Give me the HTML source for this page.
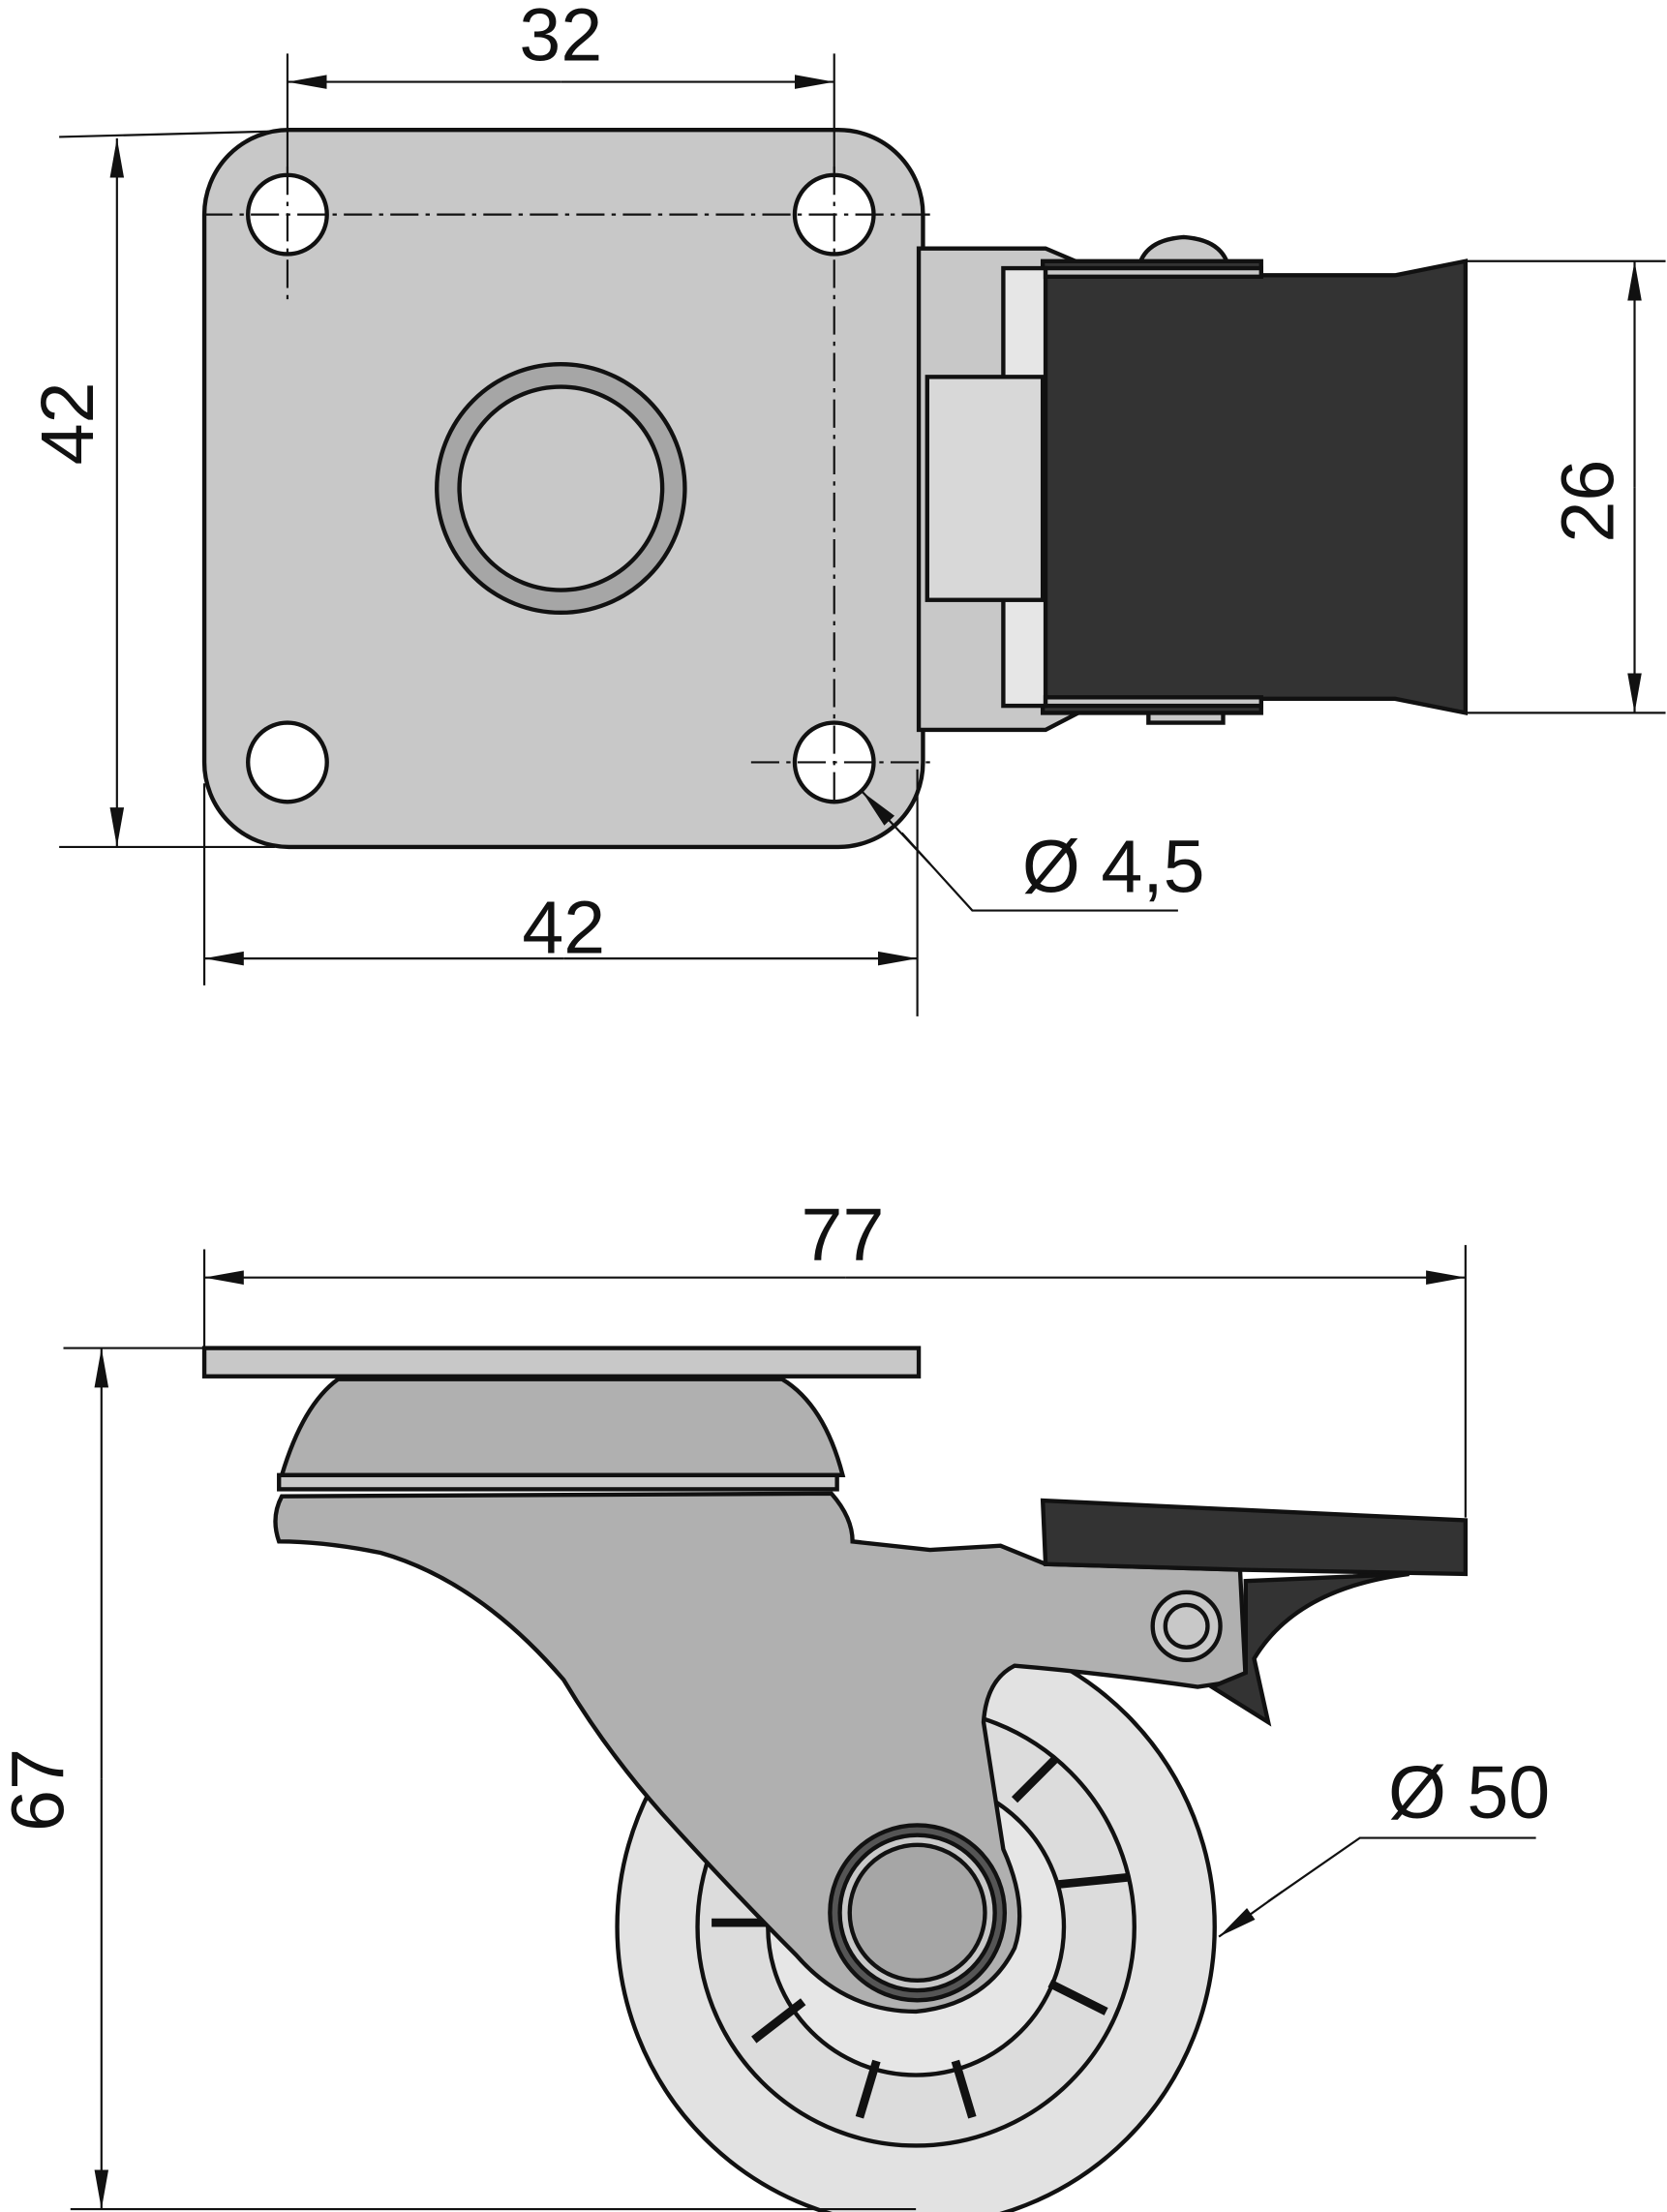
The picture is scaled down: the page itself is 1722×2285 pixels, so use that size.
<!DOCTYPE html>
<html><head><meta charset="utf-8"><style>
html,body{margin:0;padding:0;background:#fff;}
svg{display:block;}
text{font-family:"Liberation Sans",sans-serif;font-size:53px;fill:#111;}
</style></head><body>
<svg width="1722" height="2285" viewBox="0 0 1183 1567" preserveAspectRatio="none" xmlns="http://www.w3.org/2000/svg">
<defs>
<marker id="a" markerWidth="30" markerHeight="12" refX="28" refY="6" orient="auto" markerUnits="userSpaceOnUse">
<path d="M0,1 L28,6 L0,11 Z" fill="#111"/></marker>
</defs>
<g stroke="#111" stroke-width="3" fill="none">
<rect x="145" y="92" width="510" height="508" rx="60" fill="#c8c8c8"/>
<circle cx="204" cy="152" r="28" fill="#fff"/>
<circle cx="592" cy="152" r="28" fill="#fff"/>
<circle cx="204" cy="540" r="28" fill="#fff"/>
<circle cx="592" cy="540" r="28" fill="#fff"/>
<circle cx="398" cy="346" r="88" fill="#a6a6a6"/>
<circle cx="398" cy="346" r="72" fill="#c8c8c8"/>
<path d="M652,176 L742,176 L775,190 L775,500 L742,517 L652,517 Z" fill="#c8c8c8"/>
<path d="M808,190 Q812,170 840,168 Q868,170 872,190 Z" fill="#c8c8c8"/>
<path d="M815,500 L815,512 L868,512 L868,500 Z" fill="#c8c8c8"/>
<path d="M740,185 L895,185 L895,195 L990,195 L1040,185 L1040,505 L990,495 L895,495 L895,505 L740,505 Z" fill="#333"/>
<rect x="712" y="190" width="30" height="310" fill="#e6e6e6"/>
<rect x="658" y="267" width="82" height="158" fill="#d8d8d8"/>
<rect x="742" y="190" width="153" height="6" fill="#c8c8c8"/>
<rect x="742" y="494" width="153" height="6" fill="#c8c8c8"/>
</g>
<g stroke="#111" stroke-width="1.5" fill="none" stroke-dasharray="20,5,3,5">
<line x1="145" y1="152" x2="662" y2="152"/>
<line x1="592" y1="118" x2="592" y2="572"/>
<line x1="204" y1="118" x2="204" y2="212"/>
<line x1="533" y1="540" x2="662" y2="540"/>
</g>
<g stroke="#111" stroke-width="1.5" fill="none">
<line x1="204" y1="38" x2="204" y2="122"/>
<line x1="592" y1="38" x2="592" y2="122"/>
<line x1="398" y1="58" x2="204" y2="58" marker-end="url(#a)"/>
<line x1="398" y1="58" x2="592" y2="58" marker-end="url(#a)"/>
<line x1="42" y1="97" x2="195" y2="93"/>
<line x1="42" y1="600" x2="195" y2="600"/>
<line x1="83" y1="300" x2="83" y2="98" marker-end="url(#a)"/>
<line x1="83" y1="300" x2="83" y2="600" marker-end="url(#a)"/>
<line x1="145" y1="555" x2="145" y2="698"/>
<line x1="651" y1="545" x2="651" y2="720"/>
<line x1="400" y1="679" x2="145" y2="679" marker-end="url(#a)"/>
<line x1="400" y1="679" x2="651" y2="679" marker-end="url(#a)"/>
<line x1="1040" y1="185" x2="1182" y2="185"/>
<line x1="1040" y1="505" x2="1182" y2="505"/>
<line x1="1160" y1="345" x2="1160" y2="185" marker-end="url(#a)"/>
<line x1="1160" y1="345" x2="1160" y2="505" marker-end="url(#a)"/>
<polyline points="836,645 690,645 640,590"/>
<line x1="660" y1="612" x2="612" y2="561" marker-end="url(#a)"/>
</g>
<text x="398" y="43" text-anchor="middle">32</text>
<text x="400" y="675" text-anchor="middle">42</text>
<text x="855" y="632" text-anchor="end">Ø 4,5</text>
<text transform="translate(66,300) rotate(-90)" text-anchor="middle">42</text>
<text transform="translate(1145,355) rotate(-90)" text-anchor="middle">26</text>

<g stroke="#111" stroke-width="3">
<circle cx="650" cy="1365" r="212" fill="#e2e2e2"/>
<circle cx="650" cy="1365" r="155" fill="#dcdcdc"/>
<circle cx="650" cy="1365" r="105" fill="#e6e6e6"/>
<g stroke-width="6">
<line x1="505" y1="1362" x2="555" y2="1362"/>
<line x1="535" y1="1445" x2="570" y2="1418"/>
<line x1="610" y1="1500" x2="622" y2="1460"/>
<line x1="690" y1="1500" x2="678" y2="1460"/>
<line x1="745" y1="1405" x2="785" y2="1425"/>
<line x1="750" y1="1335" x2="800" y2="1330"/>
<line x1="720" y1="1275" x2="750" y2="1245"/>
</g>
<path d="M200,1045 Q215,995 240,977 L555,977 Q585,995 598,1045 Z" fill="#b0b0b0"/>
<rect x="198" y="1045" width="396" height="10" fill="#c8c8c8"/>
<path d="M200,1060 L590,1058 Q605,1075 605,1092 L660,1098 L710,1095 L742,1108 L880,1112 L884,1190 L850,1195 Q780,1185 720,1180 Q700,1190 698,1220 L712,1310 Q730,1350 720,1380 Q700,1420 650,1425 Q600,1425 565,1385 Q520,1340 470,1285 Q430,1240 400,1190 Q340,1120 270,1100 Q230,1092 198,1092 Q192,1075 200,1060 Z" fill="#b0b0b0"/>
<path d="M740,1063 L1040,1077 L1040,1115 L880,1112 L742,1108 Z" fill="#333"/>
<path d="M884,1120 L1000,1115 Q920,1125 890,1175 L900,1220 L860,1195 L884,1185 Z" fill="#333"/>
<circle cx="842" cy="1152" r="24" fill="#c8c8c8"/>
<circle cx="842" cy="1152" r="15" fill="#c8c8c8"/>
<circle cx="651" cy="1355" r="62" fill="#555"/>
<circle cx="651" cy="1355" r="55" fill="#c8c8c8"/>
<circle cx="651" cy="1355" r="48" fill="#a6a6a6"/>
<rect x="145" y="955" width="507" height="20" fill="#c8c8c8"/>
</g>
<g stroke="#111" stroke-width="1.5" fill="none">
<line x1="145" y1="885" x2="145" y2="955"/>
<line x1="1040" y1="882" x2="1040" y2="1075"/>
<line x1="600" y1="905" x2="145" y2="905" marker-end="url(#a)"/>
<line x1="600" y1="905" x2="1040" y2="905" marker-end="url(#a)"/>
<line x1="45" y1="955" x2="145" y2="955"/>
<line x1="50" y1="1565" x2="650" y2="1565"/>
<line x1="72" y1="1260" x2="72" y2="955" marker-end="url(#a)"/>
<line x1="72" y1="1260" x2="72" y2="1565" marker-end="url(#a)"/>
<polyline points="1090,1302 965,1302 900,1347"/>
<line x1="910" y1="1340" x2="865" y2="1372" marker-end="url(#a)"/>
</g>
<text x="598" y="893" text-anchor="middle">77</text>
<text x="1100" y="1288" text-anchor="end">Ø 50</text>
<text transform="translate(45,1268) rotate(-90)" text-anchor="middle">67</text>
</svg>
</body></html>
